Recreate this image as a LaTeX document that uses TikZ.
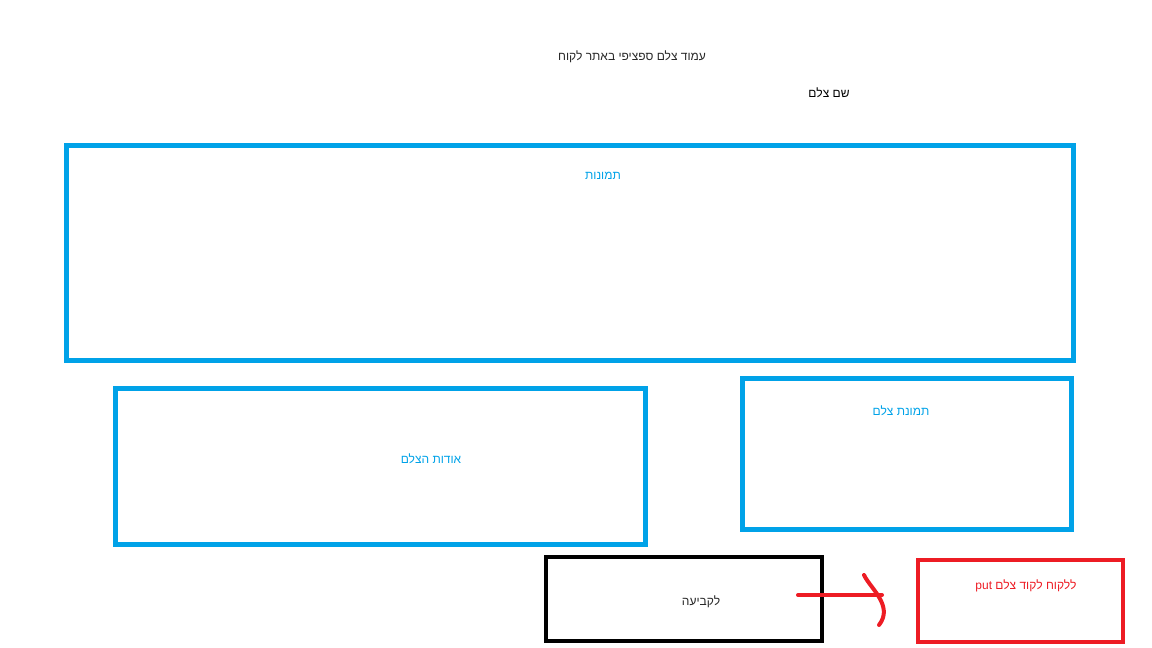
\documentclass[tikz,border=0pt]{standalone}
\usepackage{fontspec}
\setmainfont{Liberation Sans}
\newfontfamily\hebfont[Script=Hebrew]{Liberation Sans}
\TeXXeTstate=1
\definecolor{paintblue}{RGB}{0,162,232}
\definecolor{paintred}{RGB}{237,28,36}
\definecolor{textgray}{RGB}{40,40,40}
\tikzset{
  bluebox/.style={draw=paintblue, line width=3.75pt},
  blackbox/.style={draw=black, line width=3pt},
  redbox/.style={draw=paintred, line width=3pt},
  redpen/.style={draw=paintred, line width=3pt, line cap=round, line join=round},
  heb/.style={font=\hebfont\fontsize{9}{11}\selectfont, inner sep=0pt},
}
\begin{document}
\begin{tikzpicture}[x=0.75pt,y=0.75pt,yscale=-1,xscale=1]
\useasboundingbox (0,0) rectangle (1152,648);
% titles
\node[heb, text=textgray] (pagetitle) at (632,57) {\beginR עמוד צלם ספציפי באתר לקוח\endR};
\node[heb, text=black] (photographername) at (829,93) {\beginR שם צלם\endR};
% pictures strip
\draw[bluebox] (66,146) rectangle (1073,360);
\node[heb, text=paintblue] (pictures) at (603,176) {\beginR תמונות\endR};
% about
\draw[bluebox] (115,388) rectangle (645,544);
\node[heb, text=paintblue] (about) at (431,459) {\beginR אודות הצלם\endR};
% portrait
\draw[bluebox] (742,378) rectangle (1071,529);
\node[heb, text=paintblue] (portrait) at (901,411) {\beginR תמונת צלם\endR};
% booking button
\draw[blackbox] (546,557) rectangle (822,641);
\node[heb, text=textgray] (booking) at (701,602) {\beginR לקביעה\endR};
% request
\draw[redbox] (918,560) rectangle (1123,642);
\node[heb, text=paintred] (request) at (1026,586) {\beginR ללקוח לקוד צלם \beginL put\endL\endR};
% hand drawn arrow
\coordinate (arrowtail) at (798,595);
\coordinate (arrowtip) at (882,595);
\coordinate (hooktop) at (864,575);
\coordinate (hookend) at (879,625);
\draw[redpen] (arrowtail) -- (arrowtip);
\draw[redpen] (hooktop) .. controls (870,588) and (894,606) .. (hookend);
\end{tikzpicture}
\end{document}
